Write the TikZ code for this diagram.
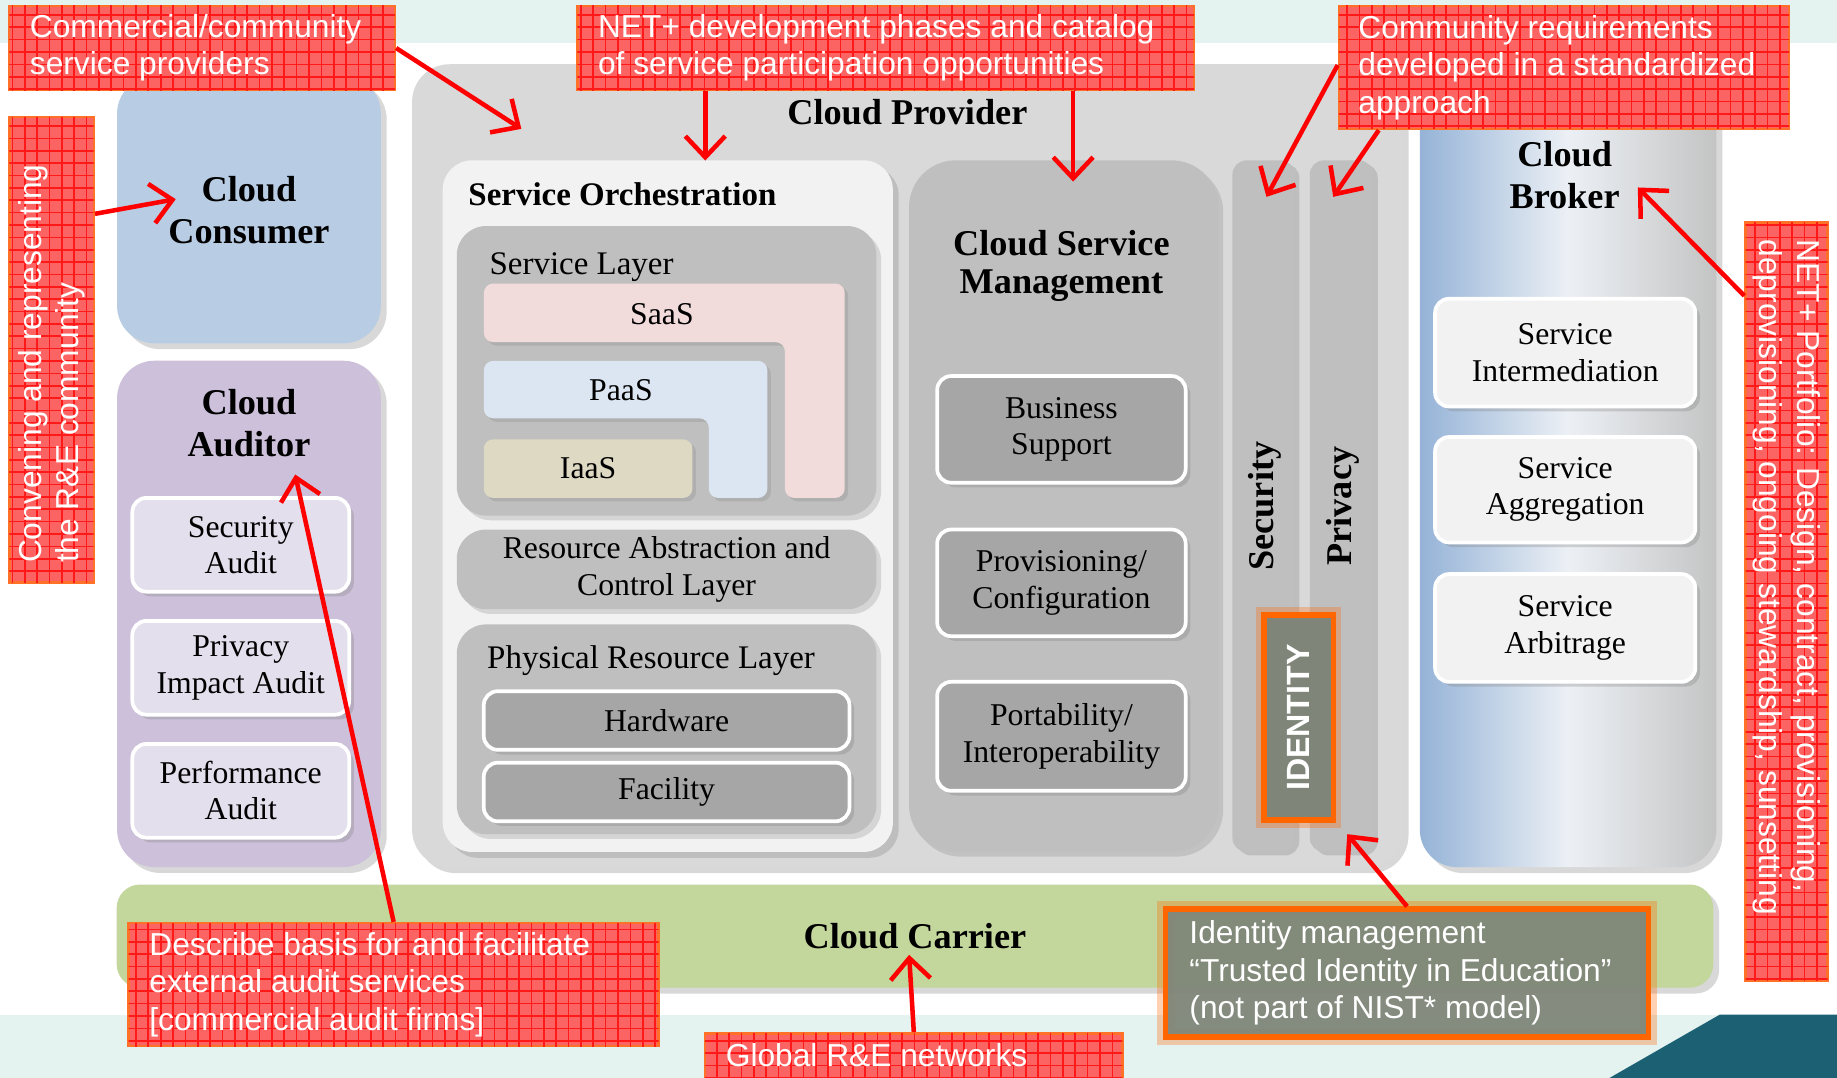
\documentclass[tikz,border=0pt]{standalone}
\usepackage{fontspec}
\setmainfont{Liberation Serif}
\setsansfont{Liberation Sans}
\usetikzlibrary{calc,shadows,arrows.meta,patterns}

\definecolor{bandteal}{RGB}{228,242,240}
\definecolor{deepteal}{RGB}{28,96,116}
\definecolor{provgray}{RGB}{217,217,217}
\definecolor{orchwhite}{RGB}{242,242,242}
\definecolor{layergray}{RGB}{191,191,191}
\definecolor{subgray}{RGB}{166,166,166}
\definecolor{consblue}{RGB}{184,204,228}
\definecolor{audpurple}{RGB}{204,192,218}
\definecolor{audsub}{RGB}{228,223,236}
\definecolor{carrgreen}{RGB}{195,214,155}
\definecolor{brokblue}{RGB}{149,179,215}
\definecolor{brokmid}{RGB}{236,240,245}
\definecolor{brokgray}{RGB}{196,196,196}
\definecolor{saaspink}{RGB}{242,220,219}
\definecolor{paasblue}{RGB}{220,230,242}
\definecolor{iaastan}{RGB}{221,217,195}
\definecolor{idgray}{RGB}{127,134,121}
\definecolor{idorange}{RGB}{255,102,0}
\definecolor{notered}{RGB}{252,100,100}
\definecolor{notegrid}{RGB}{255,25,25}
\definecolor{noteedge}{RGB}{255,112,40}

\newcommand{\bigtitle}{\fontsize{8.8}{10.2}\selectfont\bfseries}
\newcommand{\midtitle}{\fontsize{8.0}{9.2}\selectfont\bfseries}
\newcommand{\boxfont}{\fontsize{7.7}{8.8}\selectfont}
\newcommand{\notefont}{\sffamily\fontsize{7.7}{9.1}\selectfont}

\begin{document}
\begin{tikzpicture}[x=0.01cm, y=-0.01cm,
                    cloudbox/.style={rounded corners=0.32cm, inner sep=0pt,
                                     drop shadow={opacity=0.3, shadow xshift=0.5mm, shadow yshift=-0.5mm}},
                    layerbox/.style={fill=layergray, rounded corners=0.25cm, inner sep=0pt,
                                     drop shadow={opacity=0.25, shadow xshift=0.4mm, shadow yshift=-0.4mm}},
                    stripbox/.style={fill=layergray, rounded corners=0.12cm, inner sep=0pt,
                                     drop shadow={opacity=0.3, shadow xshift=0.4mm, shadow yshift=-0.3mm}},
                    subbox/.style={draw=white, line width=0.9pt, rounded corners=0.12cm, align=center,
                                   font=\boxfont, inner sep=0pt,
                                   drop shadow={opacity=0.3, shadow xshift=0.4mm, shadow yshift=-0.4mm}},
                    boldtitle/.style={font=\bigtitle, align=center, inner sep=0pt},
                    smalltitle/.style={font=\midtitle, align=center, inner sep=0pt},
                    layertitle/.style={font=\fontsize{8}{9}\selectfont, inner sep=0pt},
                    boxtext/.style={font=\boxfont, inner sep=0pt},
                    notebox/.style={fill=notered, draw=noteedge, line width=0.6pt, inner sep=0pt,
                                    postaction={pattern=grid, pattern color=notegrid}},
                    notetext/.style={text=white, font=\notefont, align=left, inner sep=0pt},
                    orangeglow/.style={preaction={draw=idorange, draw opacity=0.3, line width=4pt}},
                    notearrow/.style={draw=red, line width=1.1pt, -{Straight Barb[length=1.8mm,width=3.4mm]}}
]
\useasboundingbox (0,0) rectangle (1568,920);

% Draw the backdrop
\fill [white] (0,0) rectangle (1568,920);
\fill [bandteal] (0,0) rectangle (1568,37);
\fill [bandteal] (0,866) rectangle (1568,920);
\fill [deepteal] (1468,866) -- (1568,866) -- (1568,920) -- (1374,920) -- cycle;

% Draw the cloud provider
\node [cloudbox, fill=provgray, minimum width=8.45cm, minimum height=6.85cm] at (774.5,397.5) (provider) {};
\node [boldtitle] at ($(provider.north)+(0,42)$) (provider title) {Cloud Provider};

% Draw the service orchestration stack
\node [cloudbox, fill=orchwhite, rounded corners=0.25cm, minimum width=3.84cm, minimum height=5.9cm] at (570,432) (orch) {};
\node [smalltitle, anchor=west] at ($(orch.north west)+(22,30)$) (orch title) {Service Orchestration};
\node [layerbox, minimum width=3.58cm, minimum height=2.47cm] at (569,316.5) (servlayer) {};
\node [layertitle, anchor=west] at ($(servlayer.north west)+(28,36)$) (servlayer title) {Service Layer};
\fill [saaspink, rounded corners=0.08cm, drop shadow={opacity=0.25, shadow xshift=0.3mm, shadow yshift=-0.3mm}]
      (413,242) -- (721,242) -- (721,425) -- (670,425) -- (670,292) -- (413,292) -- cycle;
\fill [paasblue, rounded corners=0.08cm, drop shadow={opacity=0.25, shadow xshift=0.3mm, shadow yshift=-0.3mm}]
      (413,308) -- (655,308) -- (655,425) -- (605,425) -- (605,357) -- (413,357) -- cycle;
\node [boxtext] at (565,268) (saas) {SaaS};
\node [boxtext] at (530,333) (paas) {PaaS};
\node [boxtext, fill=iaastan, rounded corners=0.08cm, minimum width=1.78cm, minimum height=0.5cm,
       drop shadow={opacity=0.25, shadow xshift=0.3mm, shadow yshift=-0.3mm}] at (502,400) (iaas) {IaaS};
\node [layerbox, font=\boxfont, align=center, minimum width=3.58cm, minimum height=0.68cm] at (569,486) (abstraction)
      {Resource Abstraction and\\Control Layer};
\node [layerbox, minimum width=3.58cm, minimum height=1.79cm] at (569,622.5) (physical) {};
\node [layertitle, anchor=west] at ($(physical.north west)+(26,32)$) (physical title) {Physical Resource Layer};
\node [subbox, fill=subgray, minimum width=3.12cm, minimum height=0.5cm] at (569,615) (hardware) {Hardware};
\node [subbox, fill=subgray, minimum width=3.12cm, minimum height=0.5cm] at (569,676) (facility) {Facility};

% Draw the cloud service management
\node [layerbox, rounded corners=0.4cm, minimum width=2.64cm, minimum height=5.9cm] at (908,432) (csm) {};
\node [boldtitle, font=\fontsize{8.8}{9.2}\selectfont\bfseries] at ($(csm.north)+(-2,91)$) (csm title) {Cloud Service\\Management};
\node [subbox, fill=subgray, minimum width=2.12cm, minimum height=0.91cm] at (906,366.5) (business) {Business\\Support};
\node [subbox, fill=subgray, minimum width=2.12cm, minimum height=0.91cm] at (906,497.5) (provisioning) {Provisioning/\\Configuration};
\node [subbox, fill=subgray, minimum width=2.12cm, minimum height=0.93cm] at (906,628.5) (portability) {Portability/\\Interoperability};

% Draw the security and privacy strips
\node [stripbox, minimum width=0.53cm, minimum height=5.9cm] at (1078.5,432) (security) {};
\node [stripbox, minimum width=0.54cm, minimum height=5.9cm] at (1145,432) (privacy) {};
\node [boldtitle, rotate=90] at (1080,432) (security title) {Security};
\node [boldtitle, rotate=90] at (1146,432) (privacy title) {Privacy};
\node [orangeglow, fill=idgray, draw=idorange, line width=1.3pt, rotate=90, minimum width=1.75cm, minimum height=0.59cm,
       text=white, font=\sffamily\bfseries\fontsize{7.8}{9}\selectfont] at (1108.5,612.5) (identity) {IDENTITY};

% Draw the consumer and the auditor
\node [cloudbox, fill=consblue, font=\bigtitle, align=center, minimum width=2.25cm, minimum height=2.28cm] at (212.5,179) (consumer)
      {Cloud\\Consumer};
\node [cloudbox, fill=audpurple, minimum width=2.25cm, minimum height=4.32cm] at (212.5,524) (auditor) {};
\node [boldtitle] at ($(auditor.north)+(0,54)$) (auditor title) {Cloud\\Auditor};
\node [subbox, fill=audsub, minimum width=1.85cm, minimum height=0.8cm] at (205.5,465) (secaudit) {Security\\Audit};
\node [subbox, fill=audsub, minimum width=1.85cm, minimum height=0.8cm] at (205.5,570) (privaudit) {Privacy\\Impact Audit};
\node [subbox, fill=audsub, minimum width=1.85cm, minimum height=0.8cm] at (205.5,675) (perfaudit) {Performance\\Audit};

% Draw the broker
\node [cloudbox, left color=brokblue, right color=brokgray, middle color=brokmid, minimum width=2.53cm, minimum height=6.75cm] at (1338.5,402.5) (broker) {};
\node [boldtitle] at ($(broker.north)+(-3,85)$) (broker title) {Cloud\\Broker};
\node [subbox, fill=orchwhite, minimum width=2.22cm, minimum height=0.92cm] at (1336,301) (intermediation) {Service\\Intermediation};
\node [subbox, fill=orchwhite, minimum width=2.22cm, minimum height=0.9cm] at (1336,418) (aggregation) {Service\\Aggregation};
\node [subbox, fill=orchwhite, minimum width=2.22cm, minimum height=0.92cm] at (1336,536) (arbitrage) {Service\\Arbitrage};

% Draw the carrier
\node [cloudbox, fill=carrgreen, rounded corners=0.2cm, font=\bigtitle, minimum width=13.62cm, minimum height=0.88cm] at (781,799) (carrier) {Cloud Carrier};

% Draw the red notes
\node [notebox, minimum width=3.29cm, minimum height=0.72cm] at (172.5,41) (commercial) {};
\node [notetext, anchor=west] at ($(commercial.west)+(18,0)$) (commercial text) {Commercial/community\\service providers};
\node [notebox, minimum width=5.26cm, minimum height=0.72cm] at (756,41) (phases) {};
\node [notetext, anchor=west] at ($(phases.west)+(18,0)$) (phases text) {NET+ development phases and catalog\\of service participation opportunities};
\node [notebox, minimum width=3.84cm, minimum height=1.05cm] at (1335,57.5) (requirements) {};
\node [notetext, anchor=west] at ($(requirements.west)+(17,0)$) (requirements text) {Community requirements\\developed in a standardized\\approach};
\node [notebox, minimum width=0.72cm, minimum height=3.97cm] at (44,298.5) (convening) {};
\node [notetext, rotate=90, anchor=west] at ($(convening.south)+(0,-17)$) (convening text) {Convening and representing\\the R\&E community};
\node [notebox, minimum width=0.7cm, minimum height=6.47cm] at (1525,513.5) (portfolio) {};
\node [notetext, rotate=-90, anchor=west] at ($(portfolio.north)+(0,15)$) (portfolio text)
      {NET+ Portfolio: Design, contract, provisioning,\\deprovisioning, ongoing stewardship, sunsetting};
\node [notebox, minimum width=4.52cm, minimum height=1.05cm] at (336,840.5) (describe) {};
\node [notetext, anchor=west] at ($(describe.west)+(18,0)$) (describe text) {Describe basis for and facilitate\\external audit services\\{[}commercial audit firms{]}};
\node [notebox, minimum width=3.56cm, minimum height=0.46cm] at (780,905) (networks) {};
\node [notetext, anchor=west] at ($(networks.west)+(18,-4)$) (networks text) {Global R\&E networks};

% Draw the identity note
\node [orangeglow, fill=idgray, fill opacity=0.95, draw=idorange, line width=1.3pt, inner sep=0pt,
       minimum width=4.12cm, minimum height=1.09cm] at (1201,830.5) (idmgmt) {};
\node [notetext, anchor=west] at ($(idmgmt.west)+(22,0)$) (idmgmt text)
      {Identity management\\“Trusted Identity in Education”\\(not part of NIST* model)};

% Draw the note arrows
\coordinate (ptip) at (445,110);
\coordinate (cctip) at (150,170);
\coordinate (otip) at (602,137);
\coordinate (mtip) at (916,155);
\coordinate (stip) at (1081,168);
\coordinate (prtip) at (1138,168);
\coordinate (btip) at (1398,160);
\coordinate (atip) at (252,405);
\coordinate (ctip) at (776,815);
\coordinate (itip) at (1150,712);
\draw [notearrow] (commercial.east) -- (ptip);
\draw [notearrow] ($(convening.east)+(0,-116)$) -- (cctip);
\draw [notearrow] (phases.south -| otip) -- (otip);
\draw [notearrow] (phases.south -| mtip) -- (mtip);
\draw [notearrow] ($(requirements.west)+(0,-2)$) -- (stip);
\draw [notearrow] ($(requirements.south west)+(35,0)$) -- (prtip);
\draw [notearrow] ($(portfolio.west)+(0,-261)$) -- (btip);
\draw [notearrow] (describe.north) -- (atip);
\draw [notearrow] (networks.north) -- (ctip);
\draw [notearrow] (idmgmt.north) -- (itip);

\end{tikzpicture}
\end{document}
